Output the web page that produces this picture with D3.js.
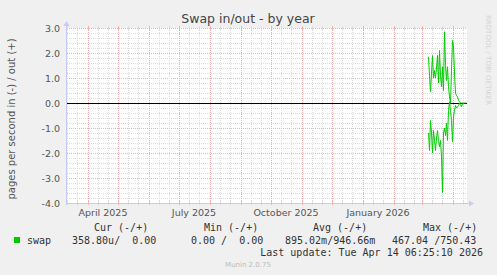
<!DOCTYPE html>
<html>
<head>
<meta charset="utf-8">
<script src="https://cdn.jsdelivr.net/npm/d3@7"></script>
<style>
  body { margin: 0; background: #f0f0f0; }
  svg { display: block; }
  text { font-family: "DejaVu Sans", sans-serif; }
  .mono { font-family: "DejaVu Sans Mono", monospace; font-size: 10px; fill: #333; white-space: pre; }
</style>
</head>
<body>
<script>
var w = 497;
var h = 275;

// daily points, first day = 2026-03-07
var startDay = "2026-03-07";
var swapOut = [1.85, 1.1, 0.45, 1.2, 1.9, 1.0, 1.3, 1.0, 1.4, 1.9, 0.8, 2.1, 1.1, 0.65, 1.45,
  0.5, 2.85, 1.5, 0.9, 1.45, 0.65, 0.25, 0.0, 1.3, 2.5, 2.25, 1.2, 0.4, 0.3, 0.25, 0.1,
  0.05, 0.0, 0.0, 0.0, 0.0, 0.0, 0.0, 0.0];
var swapIn = [-1.2, -1.9, -0.7, -1.2, -2.0, -1.1, -1.5, -1.9, -1.4, -1.1, -1.5, -1.75, -1.5,
  -2.15, -3.58, -1.2, -1.0, -1.3, -0.8, -1.5, -0.3, 0.05, -0.3, -0.7, -1.55, -0.55, -0.3,
  -0.1, -0.2, -0.15, -0.1, 0.0, -0.05, -0.15, -0.05, 0.0];

var yTicks = [3, 2, 1, 0, -1, -2, -3, -4];
var xLabels = [["2025-04-16", "April 2025"], ["2025-07-16", "July 2025"],
  ["2025-10-16", "October 2025"], ["2026-01-16", "January 2026"]];

var legendHead = ["Cur (-/+)", "Min (-/+)", "Avg (-/+)", "Max (-/+)"];
var legendVals = ["358.80u/  0.00", "0.00 /  0.00", "895.02m/946.66m", "467.04 /750.43"];
var lastUpdate = "Last update: Tue Apr 14 06:25:10 2026";

var parse = d3.timeParse("%Y-%m-%d");
var x0 = 67, x1 = 467, yTop = 28, yBot = 203;

var xScale = d3.scaleTime()
  .domain([parse("2025-03-11"), parse("2026-04-15")])
  .range([x0, x1]);

var yScale = d3.scaleLinear()
  .domain([-4, 3])
  .range([yBot, yTop]);

var svg = d3.select("body").append("svg")
  .attr("width", w)
  .attr("height", h);

svg.append("rect").attr("width", w).attr("height", h).attr("fill", "#f0f0f0");
svg.append("rect")
  .attr("x", x0).attr("y", yTop)
  .attr("width", x1 - x0).attr("height", yBot - yTop)
  .attr("fill", "#ffffff");

var majorCol = "#f4b0b0";
var minorCol = "#dcdcdc";

// horizontal grid
var g = svg.append("g").attr("shape-rendering", "crispEdges");
d3.range(-4, 3.01, 0.2).forEach(function(v) {
  var y = Math.round(yScale(v)) + 0.5;
  var major = Math.abs(v - Math.round(v)) < 0.01;
  g.append("line")
    .attr("x1", x0).attr("x2", x1).attr("y1", y).attr("y2", y)
    .attr("stroke", major ? majorCol : minorCol)
    .attr("stroke-dasharray", "1,1");
});

// vertical grid: months red, 11th/21st gray
var start = xScale.domain()[0], end = xScale.domain()[1];
var days = d3.timeDay.range(start, end);
days.forEach(function(d) {
  var dd = d.getDate();
  if (dd !== 1 && dd !== 11 && dd !== 21) return;
  var x = Math.round(xScale(d)) + 0.5;
  var col = dd === 1 ? majorCol : minorCol;
  g.append("line")
    .attr("x1", x).attr("x2", x).attr("y1", yTop).attr("y2", yBot)
    .attr("stroke", col)
    .attr("stroke-dasharray", "1,1");
  g.append("line").attr("x1", x).attr("x2", x).attr("y1", yTop - 2).attr("y2", yTop + 2).attr("stroke", col);
  g.append("line").attr("x1", x).attr("x2", x).attr("y1", yBot - 2).attr("y2", yBot + 2).attr("stroke", col);
});

// zero line
g.append("line")
  .attr("x1", x0).attr("x2", x1)
  .attr("y1", Math.round(yScale(0)) + 0.5).attr("y2", Math.round(yScale(0)) + 0.5)
  .attr("stroke", "#000").attr("stroke-width", 1);

// series
var first = parse(startDay);
function toPoints(arr) {
  return arr.map(function(v, i) { return [d3.timeDay.offset(first, i), v]; });
}
var line = d3.line()
  .x(function(d) { return xScale(d[0]) + 0.5; })
  .y(function(d) { return yScale(d[1]); });

[swapOut, swapIn].forEach(function(s) {
  svg.append("path")
    .attr("d", line(toPoints(s)))
    .attr("fill", "none")
    .attr("stroke", "#00cc00")
    .attr("stroke-width", 1);
});

// axes
var axisCol = "#c8c8ff";
g.append("line").attr("x1", x0 - 0.5).attr("x2", x1 + 4).attr("y1", yBot + 0.5).attr("y2", yBot + 0.5).attr("stroke", axisCol);
g.append("line").attr("x1", x0 - 0.5).attr("x2", x0 - 0.5).attr("y1", yBot + 2).attr("y2", yTop - 4).attr("stroke", axisCol);
svg.append("path").attr("d", "M" + (x1 + 7) + "," + (yBot + 0.5) + "l-5,-3v6z").attr("fill", axisCol);
svg.append("path").attr("d", "M" + (x0 - 0.5) + "," + (yTop - 7) + "l-3,5h6z").attr("fill", axisCol);

// y labels
svg.selectAll(".yl")
  .data(yTicks)
  .enter()
  .append("text")
  .attr("x", 60)
  .attr("y", function(d) { return yScale(d) + 3.5; })
  .attr("text-anchor", "end")
  .attr("font-size", "9.5px")
  .attr("fill", "#555")
  .text(function(d) { return d.toFixed(1); });

// x labels
svg.selectAll(".xl")
  .data(xLabels)
  .enter()
  .append("text")
  .attr("x", function(d) { return xScale(parse(d[0])); })
  .attr("y", 216)
  .attr("text-anchor", "middle")
  .attr("font-size", "9.5px")
  .attr("fill", "#555")
  .text(function(d) { return d[1]; });

// title
svg.append("text")
  .attr("x", 248).attr("y", 23)
  .attr("text-anchor", "middle")
  .attr("font-size", "12.5px")
  .attr("fill", "#444")
  .text("Swap in/out - by year");

// y title
svg.append("text")
  .attr("transform", "rotate(-90)")
  .attr("x", -119).attr("y", 15)
  .attr("text-anchor", "middle")
  .attr("font-size", "10px")
  .attr("fill", "#555")
  .text("pages per second in (-) / out (+)");

// watermark
svg.append("text")
  .attr("transform", "translate(486,15) rotate(90)")
  .attr("font-size", "7px")
  .attr("fill", "#d4d4d4")
  .text("RRDTOOL / TOBI OETIKER");

// legend
var headX = [94, 204, 313, 423];
svg.selectAll(".lh")
  .data(legendHead)
  .enter()
  .append("text")
  .attr("class", "mono")
  .attr("x", function(d, i) { return headX[i]; })
  .attr("y", 231)
  .text(function(d) { return d; });

svg.append("rect").attr("x", 14).attr("y", 237).attr("width", 6).attr("height", 6).attr("fill", "#00cc00");
svg.append("text").attr("class", "mono").attr("x", 27).attr("y", 244).text("swap");

var valX = [72, 191, 285, 392];
svg.selectAll(".lv")
  .data(legendVals)
  .enter()
  .append("text")
  .attr("class", "mono")
  .attr("x", function(d, i) { return valX[i]; })
  .attr("y", 244)
  .text(function(d) { return d; });

svg.append("text")
  .attr("class", "mono")
  .attr("x", 483).attr("y", 256)
  .attr("text-anchor", "end")
  .text(lastUpdate);

svg.append("text")
  .attr("x", 248).attr("y", 267)
  .attr("text-anchor", "middle")
  .attr("font-size", "7px")
  .attr("fill", "#bbbbbb")
  .text("Munin 2.0.75");
</script>
</body>
</html>
